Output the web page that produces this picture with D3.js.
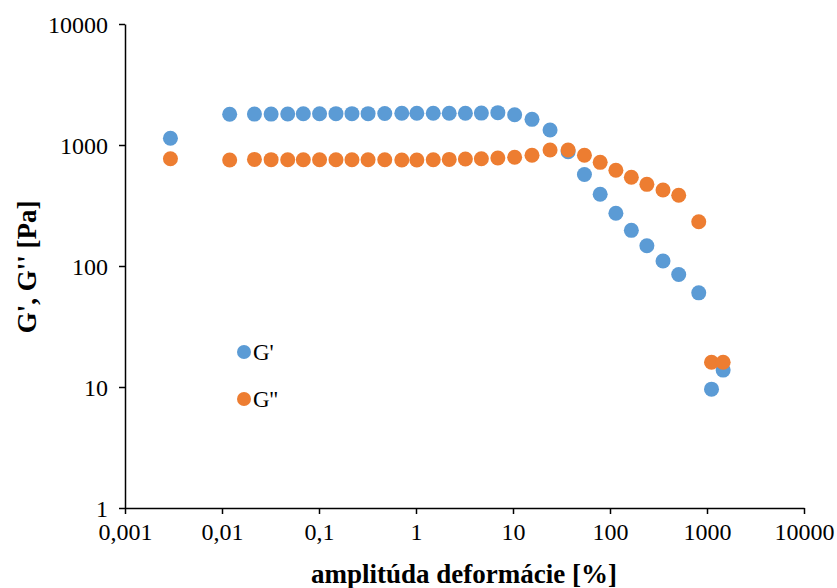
<!DOCTYPE html>
<html>
<head>
<meta charset="utf-8">
<script src="https://cdn.jsdelivr.net/npm/d3@7"></script>
<style>
  body { margin: 0; background: #fff; }
  text { font-family: "Liberation Serif", "Times New Roman", serif; fill: #000; }
</style>
</head>
<body>
<svg id="chart" width="837" height="588"></svg>
<script>
// ---- data ----
const strain = [0.00294, 0.0120, 0.0216, 0.0321, 0.0476, 0.0689, 0.1014, 0.1496, 0.2187, 0.3206, 0.4764,
  0.714, 1.02, 1.506, 2.20, 3.23, 4.72, 6.98, 10.4, 15.7, 24.1, 37.0, 54.5, 79.2, 115, 166, 240, 352, 511,
  822, 1113, 1467];
const gPrime = [1136, 1794, 1800, 1800, 1805, 1810, 1810, 1815, 1815, 1815, 1820,
  1828, 1828, 1828, 1828, 1830, 1835, 1850, 1780, 1630, 1330, 881, 570, 392, 273, 197, 147, 110, 85,
  60, 9.6, 13.8];
const gDoublePrime = [770, 752, 760, 757, 755, 755, 755, 755, 755, 755, 755,
  752, 752, 755, 760, 766, 770, 781, 791, 822, 910, 910, 822, 719, 618, 541, 473, 425, 384,
  232, 16.0, 16.0];
const xTicks = [0.001, 0.01, 0.1, 1, 10, 100, 1000, 10000];
const yTicks = [1, 10, 100, 1000, 10000];
const seriesNames = ["G'", "G''"];
const colors = ["#5B9BD5", "#ED7D31"];

const svg = d3.select("#chart");
const x = d3.scaleLog().domain([0.001, 10000]).range([125, 804]);
const y = d3.scaleLog().domain([1, 10000]).range([508, 24]);

const fmt = d => String(d).replace(".", ",");

// axes
const xAxis = svg.append("g").attr("transform", "translate(0,508)")
  .call(d3.axisBottom(x).tickValues(xTicks).tickFormat(fmt).tickSize(6).tickSizeOuter(0));
const yAxis = svg.append("g").attr("transform", "translate(125,0)")
  .call(d3.axisLeft(y).tickValues(yTicks).tickFormat(d => String(d)).tickSize(6).tickSizeOuter(0));
[xAxis, yAxis].forEach(a => {
  a.select(".domain").attr("stroke", "#000").attr("stroke-width", 1.5);
  a.selectAll(".tick line").attr("stroke", "#000").attr("stroke-width", 1.5);
  a.selectAll("text").style("font-family", "'Liberation Serif', serif").style("font-size", "24px").attr("fill", "#000");
});
xAxis.selectAll("text").attr("dy", "0.71em").attr("y", 15);
yAxis.selectAll("text").attr("x", -17).attr("dy", "0.35em");

// data points
const series = [gPrime, gDoublePrime];
series.forEach((vals, i) => {
  svg.append("g").selectAll("circle")
    .data(vals.map((v, j) => [strain[j], v]))
    .join("circle")
    .attr("cx", d => x(d[0]))
    .attr("cy", d => y(d[1]))
    .attr("r", 7.5)
    .attr("fill", colors[i]);
});

// legend
const legend = svg.append("g");
seriesNames.forEach((name, i) => {
  const ly = 352 + i * 47;
  legend.append("circle").attr("cx", 244).attr("cy", ly).attr("r", 7).attr("fill", colors[i]);
  legend.append("text").attr("x", 253).attr("y", ly).attr("dy", "0.35em")
    .style("font-size", "23px").text(name);
});

// axis titles
svg.append("text").attr("x", 464).attr("y", 583).attr("text-anchor", "middle")
  .style("font-size", "27px").style("font-weight", "bold").text("amplitúda deformácie [%]");
svg.append("text").attr("transform", "translate(36,267) rotate(-90)").attr("text-anchor", "middle")
  .style("font-size", "27px").style("font-weight", "bold").text("G', G'' [Pa]");
</script>
</body>
</html>
